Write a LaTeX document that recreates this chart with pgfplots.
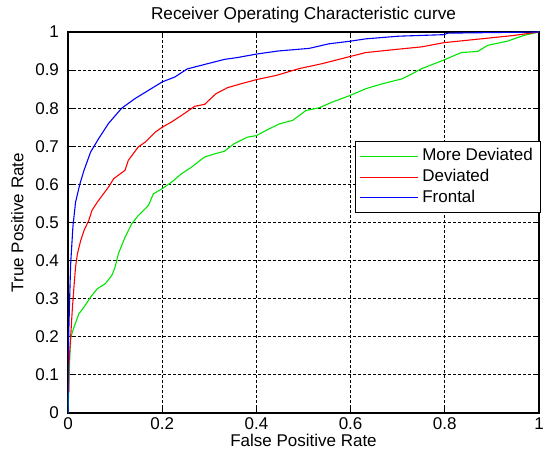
\documentclass[border=0pt]{standalone}
\usepackage{fontspec}
\setmainfont{Liberation Sans}
\usepackage{pgfplots}
\pgfplotsset{compat=1.18}
\begin{document}
\begin{tikzpicture}
\begin{axis}[
  scale only axis,
  width=235.5pt, height=190.5pt,
  xmin=0, xmax=1, ymin=0, ymax=1,
  xtick={0,0.2,0.4,0.6,0.8,1},
  xticklabels={0,0.2,0.4,0.6,0.8,1},
  ytick={0,0.1,0.2,0.3,0.4,0.5,0.6,0.7,0.8,0.9,1},
  yticklabels={0,0.1,0.2,0.3,0.4,0.5,0.6,0.7,0.8,0.9,1},
  tick align=inside,
  major tick length=3pt,
  tick style={black, line width=0.5pt},
  xtick pos=both, ytick pos=both,
  grid=major,
  major grid style={black, line width=0.5pt, dash pattern=on 1.5pt off 1pt},
  axis line style={black, line width=0.6pt},
  tick label style={font=\fontsize{8.5}{10}\selectfont},
  xticklabel style={yshift=1pt},
  yticklabel style={xshift=-1pt},
  label style={font=\fontsize{8.5}{10}\selectfont},
  title style={font=\fontsize{8.6}{10}\selectfont, yshift=-5pt},
  title={Receiver Operating Characteristic curve},
  xlabel={False Positive Rate},
  ylabel={True Positive Rate},
  xlabel style={yshift=5pt},
  ylabel style={yshift=-1pt},
  legend style={at={(1.005,0.714)}, anchor=north east, draw=black, line width=0.5pt, fill=white,
    font=\fontsize{8.5}{10}\selectfont, row sep=-1.2pt, inner xsep=2pt, inner ysep=1.5pt},
  legend cell align=left,
  legend image post style={line width=0.5pt},
  legend image code/.code={\draw[#1] (0pt,0pt) -- (29pt,0pt);},
]
\addplot[color={rgb,255:red,0;green,230;blue,0}, line width=0.55pt] coordinates {
(0,0) (0.004,0.155) (0.006,0.199) (0.0126,0.225) (0.023,0.26) (0.034,0.278) (0.048,0.304) (0.062,0.326) (0.079,0.339) (0.093,0.361) (0.1,0.383) (0.107,0.418) (0.121,0.461) (0.135,0.496) (0.149,0.518) (0.171,0.545) (0.181,0.575) (0.199,0.588) (0.22,0.606) (0.241,0.628) (0.262,0.645) (0.29,0.672) (0.311,0.68) (0.332,0.687) (0.353,0.707) (0.381,0.724) (0.4,0.728) (0.421,0.742) (0.449,0.759) (0.477,0.768) (0.505,0.794) (0.533,0.801) (0.561,0.816) (0.6,0.834) (0.632,0.851) (0.667,0.864) (0.709,0.877) (0.73,0.89) (0.751,0.904) (0.793,0.924) (0.835,0.946) (0.87,0.949) (0.891,0.965) (0.933,0.976) (0.968,0.991) (1,1)
};
\addlegendentry{More Deviated}
\addplot[color={rgb,255:red,255;green,0;blue,0}, line width=0.55pt] coordinates {
(0.002,0.054) (0.002,0.129) (0.0056,0.199) (0.009,0.269) (0.0126,0.33) (0.016,0.383) (0.02,0.418) (0.027,0.453) (0.034,0.479) (0.044,0.505) (0.051,0.532) (0.062,0.553) (0.086,0.593) (0.097,0.615) (0.121,0.637) (0.128,0.663) (0.149,0.698) (0.164,0.711) (0.185,0.737) (0.2,0.75) (0.22,0.764) (0.241,0.781) (0.269,0.805) (0.29,0.81) (0.314,0.838) (0.339,0.854) (0.367,0.864) (0.4,0.875) (0.442,0.886) (0.491,0.904) (0.54,0.917) (0.6,0.936) (0.632,0.946) (0.702,0.955) (0.751,0.961) (0.798,0.972) (0.877,0.982) (0.947,0.991) (1,1)
};
\addlegendentry{Deviated}
\addplot[color={rgb,255:red,0;green,0;blue,255}, line width=0.55pt] coordinates {
(0,0) (0,0.13) (0.0035,0.30) (0.0056,0.39) (0.0105,0.49) (0.016,0.553) (0.025,0.60) (0.034,0.637) (0.048,0.685) (0.065,0.72) (0.086,0.76) (0.114,0.80) (0.142,0.825) (0.171,0.847) (0.2,0.869) (0.227,0.882) (0.253,0.903) (0.297,0.917) (0.332,0.928) (0.36,0.933) (0.4,0.942) (0.445,0.950) (0.512,0.957) (0.554,0.969) (0.6,0.976) (0.632,0.982) (0.702,0.989) (0.798,0.993) (0.807,0.997) (0.933,0.999) (1,1)
};
\addlegendentry{Frontal}
\end{axis}
\pgfresetboundingbox
\path ([xshift=-34pt,yshift=-21pt]current axis.south west) rectangle ([xshift=3pt,yshift=16pt]current axis.north east);
\end{tikzpicture}
\end{document}
